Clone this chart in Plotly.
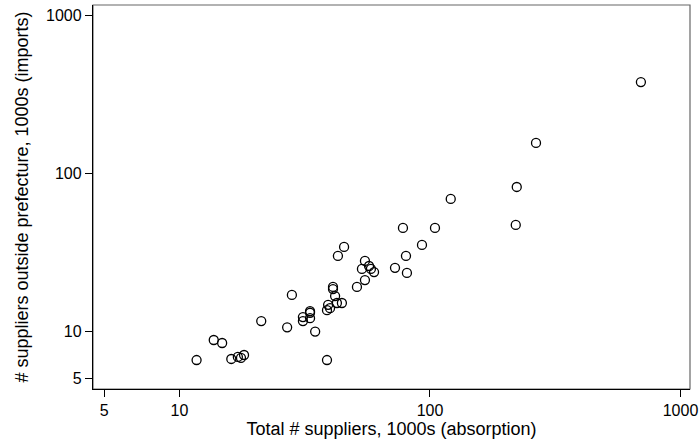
import plotly.graph_objects as go

# Suppliers per prefecture, thousands
total_suppliers = [
    695, 265, 222, 220, 121, 104.7, 78.0, 92.9, 80.2, 72.5, 80.9,
    55.0, 57.1, 53.5, 58.1, 59.8, 55.0, 51.1, 45.4, 42.9, 41.0, 41.0,
    41.8, 39.2, 39.9, 42.5, 44.5, 38.8, 33.2, 33.2, 31.1, 31.1, 33.2,
    28.1, 26.9, 34.8, 38.8, 21.2, 13.7, 14.8, 11.7, 16.1, 17.1, 17.6, 18.1,
]
outside_suppliers = [
    378, 155.6, 81.9, 47.1, 68.8, 45.1, 45.1, 35.2, 30.0, 25.2, 23.4,
    27.9, 25.9, 24.8, 24.8, 23.7, 21.1, 19.1, 34.2, 30.0, 19.1, 18.5,
    16.7, 14.7, 14.0, 15.1, 15.1, 13.6, 13.4, 13.1, 12.3, 11.6, 12.1,
    17.0, 10.6, 9.96, 6.58, 11.6, 8.81, 8.43, 6.58, 6.68, 6.88, 6.78, 7.08,
]

tick_vals = [5, 10, 100, 1000]
tick_text = ["5", "10", "100", "1000"]

font_family = "Liberation Sans, Arial, Helvetica, sans-serif"

fig = go.Figure(
    go.Scatter(
        x=total_suppliers,
        y=outside_suppliers,
        mode="markers",
        marker=dict(
            symbol="circle-open",
            size=9,
            color="black",
            line=dict(width=1.3, color="black"),
        ),
        hoverinfo="x+y",
    )
)

axis_common = dict(
    type="log",
    showgrid=False,
    zeroline=False,
    showline=True,
    linecolor="black",
    linewidth=1.3,
    ticks="outside",
    ticklen=7,
    tickwidth=1.2,
    tickcolor="black",
    tickvals=tick_vals,
    ticktext=tick_text,
    tickfont=dict(family=font_family, size=16, color="black"),
)

fig.update_xaxes(
    **axis_common,
    range=[0.6547, 3.038],
    title=dict(
        text="Total # suppliers, 1000s (absorption)",
        font=dict(family=font_family, size=18, color="black"),
        standoff=4,
    ),
)
fig.update_yaxes(
    **axis_common,
    range=[0.6348, 3.065],
    title=dict(
        text="# suppliers outside prefecture, 1000s (imports)",
        font=dict(family=font_family, size=18, color="black"),
        standoff=12,
    ),
)

# Grey border around the plot region (top and right sides)
fig.add_shape(
    type="rect", xref="paper", yref="paper",
    x0=0, x1=1, y0=0, y1=1,
    line=dict(color="#666666", width=1.2),
    layer="below",
)

fig.update_layout(
    width=700,
    height=447,
    margin=dict(l=93, r=10, t=5, b=58, autoexpand=False),
    paper_bgcolor="white",
    plot_bgcolor="white",
    showlegend=False,
    font=dict(family=font_family, color="black"),
)

fig.write_html("out.html")
